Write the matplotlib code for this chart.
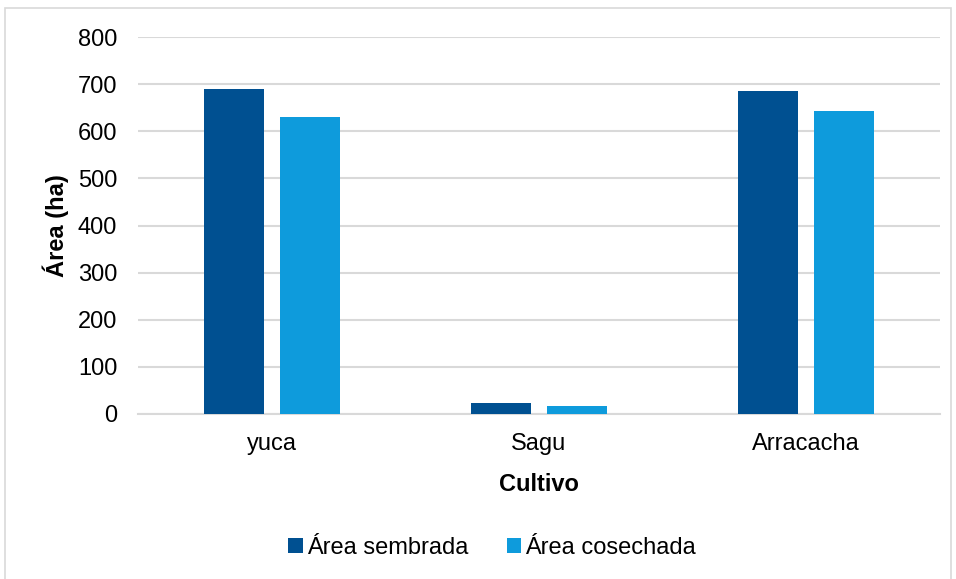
import numpy as np
import matplotlib.pyplot as plt
from matplotlib.patches import Rectangle

plt.rcParams['font.family'] = ['Liberation Sans', 'DejaVu Sans']

# datos
cultivos = ['yuca', 'Sagu', 'Arracacha']
sembrada = [690, 24, 686]
cosechada = [630, 16, 643]
series = ['Área sembrada', 'Área cosechada']
colores = ['#005091', '#0E9BDC']

fig = plt.figure(figsize=(9.56, 5.79), dpi=100)
ax = fig.add_axes([0.1444, 0.285, 0.8386, 0.651])

# borde exterior del grafico
fig.patches.append(Rectangle((0.005, -0.05), 0.99, 1.036, transform=fig.transFigure,
                             fill=False, edgecolor='#d9d9d9', linewidth=1.2))

x = np.arange(len(cultivos))
ancho = 0.225
ax.bar(x - 0.1425, sembrada, ancho, color=colores[0], label=series[0], zorder=3)
ax.bar(x + 0.1425, cosechada, ancho, color=colores[1], label=series[1], zorder=3)

ax.set_xlim(-0.5, 2.5)
ax.set_ylim(0, 800)
ax.set_yticks(range(0, 801, 100))
ax.set_xticks(x)
ax.set_xticklabels(cultivos)
ax.tick_params(length=0, labelsize=17, colors='#000000')
ax.tick_params(axis='y', pad=15)
ax.tick_params(axis='x', pad=14)
ax.grid(axis='y', color='#d9d9d9', linewidth=1.5, zorder=0)
for s in ['top', 'right', 'left']:
    ax.spines[s].set_visible(False)
ax.spines['bottom'].set_color('#d9d9d9')
ax.spines['bottom'].set_linewidth(1.5)

ax.set_ylabel('Área (ha)', fontsize=17, fontweight='bold', labelpad=6)
ax.set_xlabel('Cultivo', fontsize=17, fontweight='bold', labelpad=13)

fig.legend(loc='center', bbox_to_anchor=(0.515, 0.054), ncol=2, frameon=False,
           fontsize=17, handlelength=0.6, handleheight=0.6, handletextpad=0.2,
           columnspacing=1.6)

plt.savefig('out.png', dpi=100)
